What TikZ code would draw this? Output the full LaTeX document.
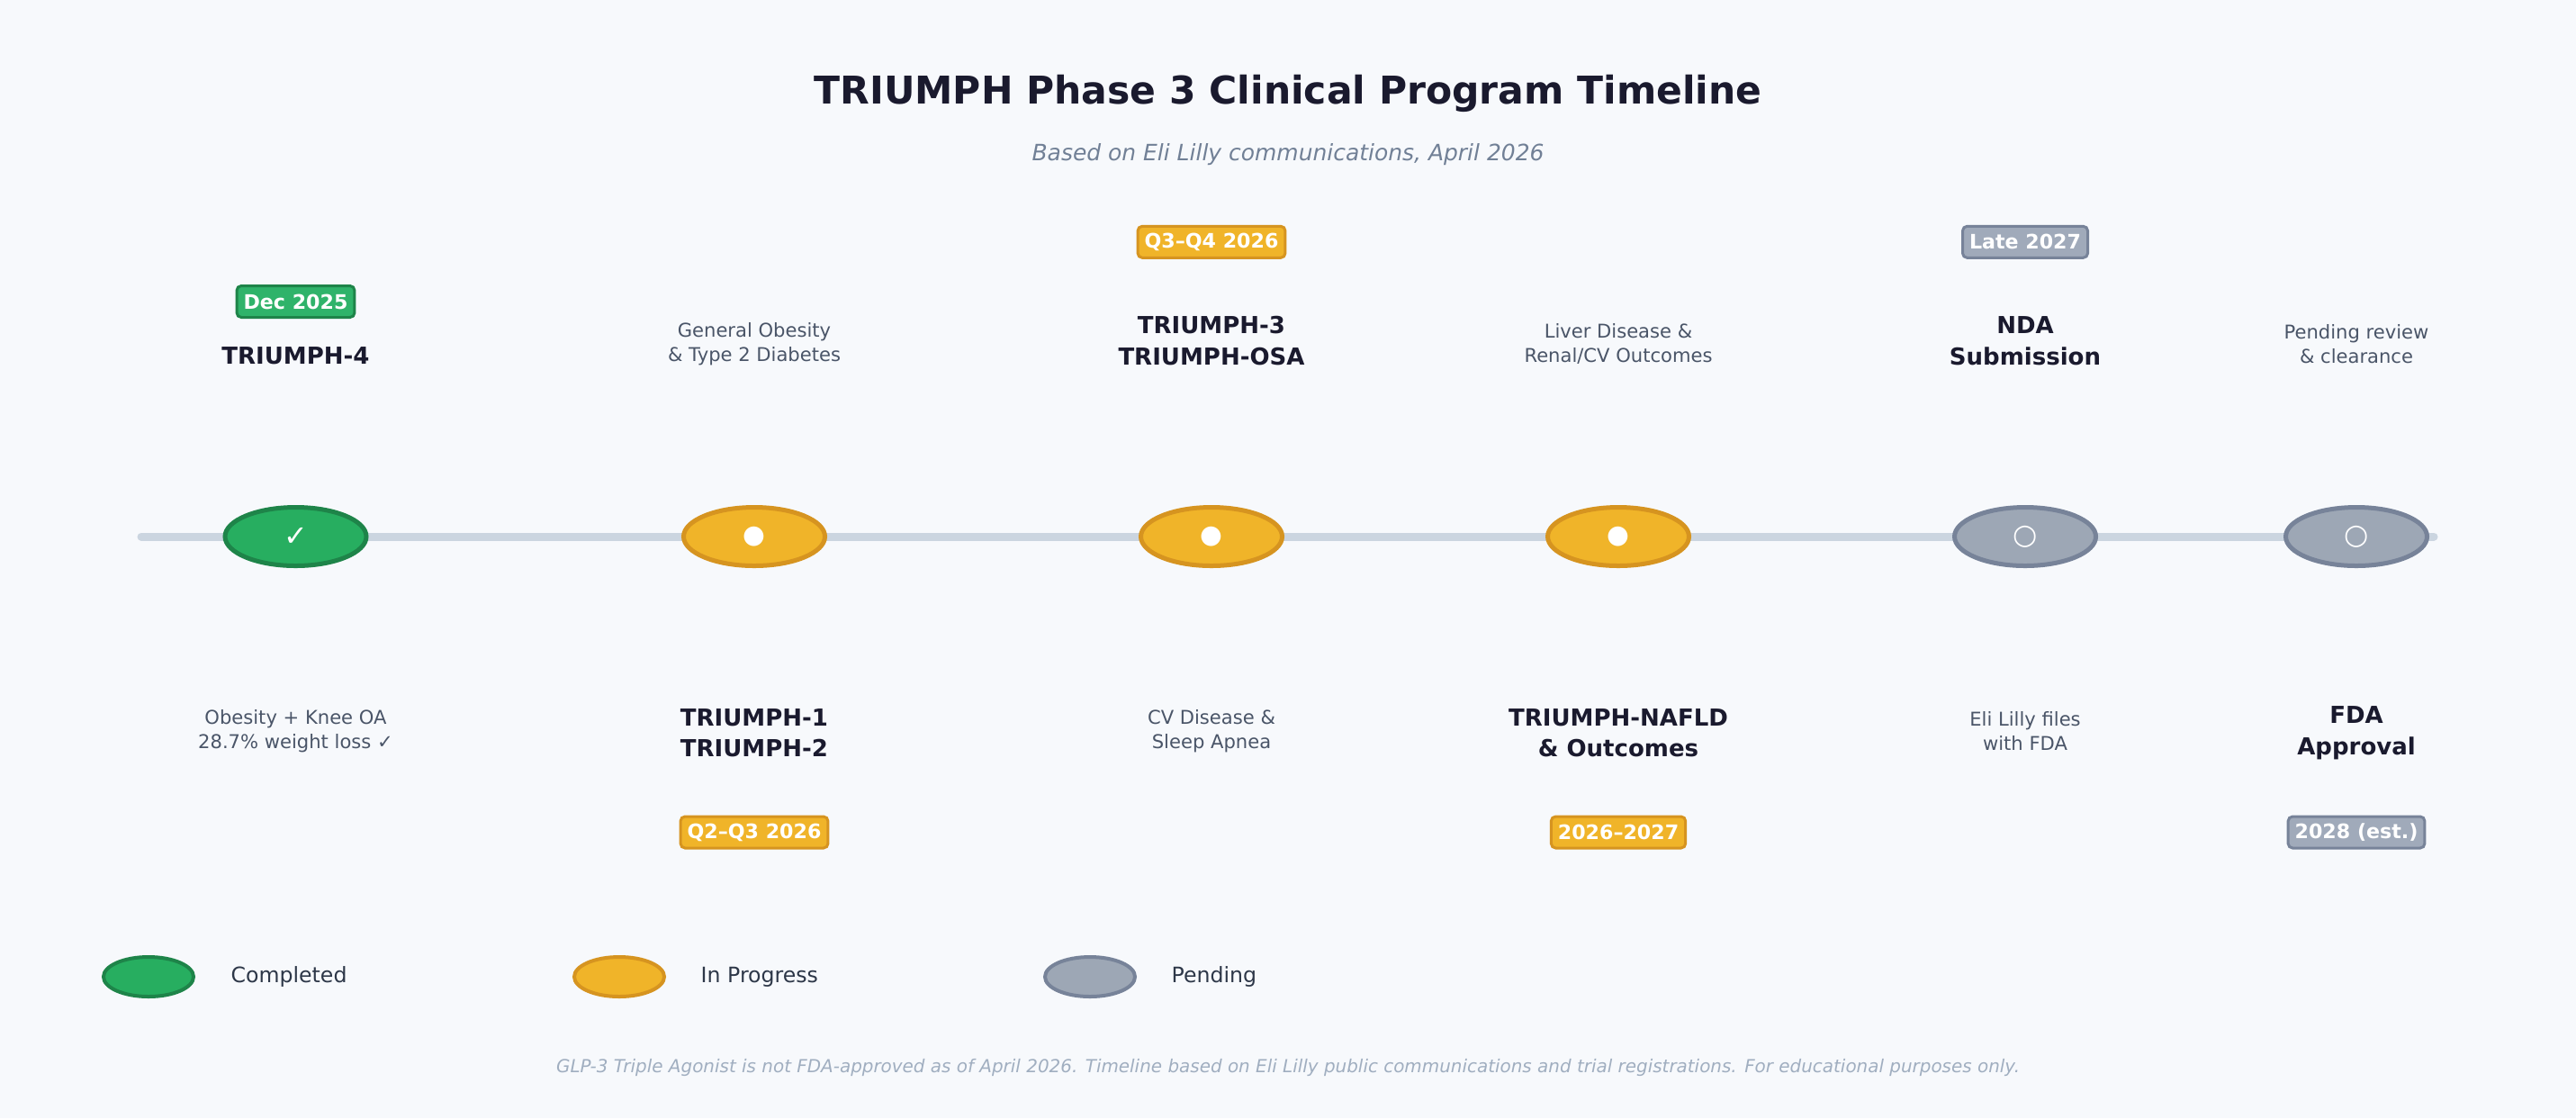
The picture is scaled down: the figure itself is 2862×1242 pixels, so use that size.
\documentclass[tikz,border=0pt]{standalone}
\usepackage{fontspec}
\setmainfont{DejaVu Sans}
\usetikzlibrary{shapes.geometric}
\definecolor{bg}{HTML}{F7F9FC}
\definecolor{navy}{HTML}{1A1A2E}
\definecolor{slate}{HTML}{4A5568}
\definecolor{subgray}{HTML}{718096}
\definecolor{footgray}{HTML}{A0AEC0}
\definecolor{legtext}{HTML}{2D3748}
\definecolor{tline}{HTML}{CBD5E0}
\definecolor{cgreen}{HTML}{27AE60}
\definecolor{cgreenD}{HTML}{1E8449}
\definecolor{bgreenF}{HTML}{2FB36A}
\definecolor{camber}{HTML}{F0B429}
\definecolor{camberD}{HTML}{D69420}
\definecolor{cgray}{HTML}{9DA7B5}
\definecolor{cgrayD}{HTML}{778399}
\definecolor{bgrayF}{HTML}{A0AABA}
\begin{document}
\begin{tikzpicture}[x=0.1mm,y=-0.1mm,
  mstone/.style={ellipse, line width=0.5mm, minimum width=15.7mm, minimum height=6.5mm, inner sep=0pt, text=white},
  done/.style={mstone, fill=cgreen, draw=cgreenD, font=\fontsize{9.1}{10}\selectfont},
  prog/.style={mstone, fill=camber, draw=camberD, font=\fontsize{8.1}{9}\selectfont},
  pend/.style={mstone, fill=cgray, draw=cgrayD, font=\fontsize{8.9}{10}\selectfont},
  legmark/.style={ellipse, line width=0.4mm, minimum width=10mm, minimum height=4.4mm, inner sep=0pt},
  badge/.style={rounded corners=0.5mm, line width=0.3mm, inner xsep=0.75mm, inner ysep=0pt, minimum height=3.5mm, text=white, font=\bfseries\fontsize{6.3}{7}\selectfont},
  bgreen/.style={badge, fill=bgreenF, draw=cgreenD},
  bamber/.style={badge, fill=camber, draw=camberD},
  bgray/.style={badge, fill=bgrayF, draw=cgrayD},
  boldlbl/.style={align=center, text=navy, inner sep=0pt, font=\bfseries\fontsize{7.4}{9.8}\selectfont},
  desc/.style={align=center, text=slate, inner sep=0pt, font=\fontsize{6.0}{7.5}\selectfont},
  legtxt/.style={anchor=west, text=legtext, inner sep=0pt, font=\fontsize{6.72}{8}\selectfont},
  tlline/.style={draw=tline, line width=0.9mm, line cap=round}
]
\fill[bg] (0,0) rectangle (2862,1242);
\useasboundingbox (0,0) rectangle (2862,1242);

% title
\node[text=navy, font=\bfseries\fontsize{12.09}{14}\selectfont] (title) at (1431,104) {TRIUMPH Phase 3 Clinical Program Timeline};
\node[text=subgray, font=\itshape\fontsize{7.1}{9}\selectfont] (subtitle) at (1431,172) {Based on Eli Lilly communications, April 2026};

% timeline axis
\coordinate (ls) at (157,596);
\coordinate (le) at (2704,596);
\draw[tlline] (ls) -- (le);

% milestones
\node[done] (m1) at (328.5,596) {✓};
\node[prog] (m2) at (838,596) {●};
\node[prog] (m3) at (1346,596) {●};
\node[prog] (m4) at (1798,596) {●};
\node[pend] (m5) at (2250,596) {○};
\node[pend] (m6) at (2618,596) {○};

% column 1
\node[bgreen] (b1) at (328.5,335) {Dec 2025};
\node[boldlbl] (t1) at (328.5,395) {TRIUMPH-4};
\node[desc] (d1) at (328.5,812) {Obesity + Knee OA\\28.7\% weight loss ✓};

% column 2
\node[desc] (d2) at (838,382) {General Obesity\\\& Type 2 Diabetes};
\node[boldlbl] (t2) at (838,814) {TRIUMPH-1\\TRIUMPH-2};
\node[bamber] (b2) at (838,924.5) {Q2--Q3 2026};

% column 3
\node[bamber] (b3) at (1346,268.8) {Q3--Q4 2026};
\node[boldlbl] (t3) at (1346,378.5) {TRIUMPH-3\\TRIUMPH-OSA};
\node[desc] (d3) at (1346,812) {CV Disease \&\\Sleep Apnea};

% column 4
\node[desc] (d4) at (1798,382) {Liver Disease \&\\Renal/CV Outcomes};
\node[boldlbl] (t4) at (1798,814) {TRIUMPH-NAFLD\\\& Outcomes};
\node[bamber] (b4) at (1798,924.5) {2026--2027};

% column 5
\node[bgray] (b5) at (2250,268.8) {Late 2027};
\node[boldlbl] (t5) at (2250,378.5) {NDA\\Submission};
\node[desc] (d5) at (2250,812) {Eli Lilly files\\with FDA};

% column 6
\node[desc] (d6) at (2618,382) {Pending review\\\& clearance};
\node[boldlbl] (t6) at (2618,814) {FDA\\Approval};
\node[bgray] (b6) at (2618,924.5) {2028 (est.)};

% legend
\node[legmark, fill=cgreen, draw=cgreenD] (lg1) at (165,1085) {};
\node[legtxt] (lt1) at (256,1085) {Completed};
\node[legmark, fill=camber, draw=camberD] (lg2) at (688,1085) {};
\node[legtxt] (lt2) at (778,1085) {In Progress};
\node[legmark, fill=cgray, draw=cgrayD] (lg3) at (1211,1085) {};
\node[legtxt] (lt3) at (1301,1085) {Pending};

% footer
\node[text=footgray, font=\itshape\fontsize{5.67}{7}\selectfont] (foot) at (1431,1186) {GLP-3 Triple Agonist is not FDA-approved as of April 2026. Timeline based on Eli Lilly public communications and trial registrations. For educational purposes only.};
\end{tikzpicture}
\end{document}
